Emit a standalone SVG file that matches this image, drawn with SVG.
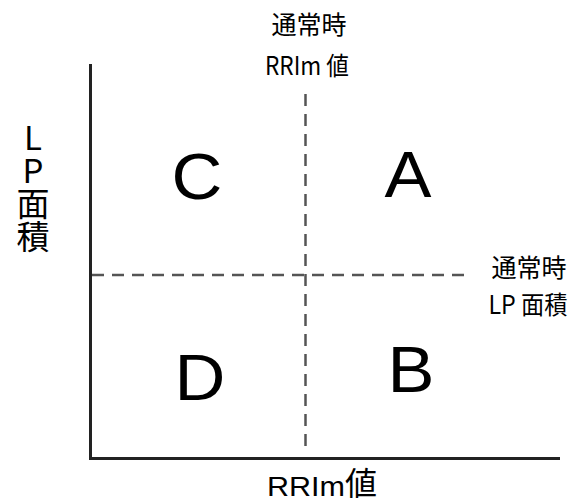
<svg xmlns="http://www.w3.org/2000/svg" width="578" height="503" viewBox="0 0 578 503">
<style>
.axis{stroke:#222;stroke-width:3;fill:none}
.dash{stroke:#555;stroke-width:2.5;stroke-dasharray:12 8;fill:none}
.jp{font-family:"Noto Sans CJK JP","Liberation Sans",sans-serif;fill:#000}
.big{font-family:"Liberation Sans",Arial,sans-serif;font-size:64px;fill:#000;text-anchor:middle}
</style>
<rect width="578" height="503" fill="#fff"/>
<g id="connectors">
<path class="axis" d="M90.5 64 V458.5 H560"/>
<path class="dash" d="M92 275 H466"/>
<path class="dash" d="M305.5 94 V446"/>
</g>
<g id="top-label" class="jp" text-anchor="middle">
<text x="309" y="34" font-size="25">通常時</text>
<text x="307" y="75" font-size="25" textLength="84" lengthAdjust="spacingAndGlyphs">RRIm 値</text>
</g>
<g id="right-label" class="jp" text-anchor="middle">
<text x="529" y="277" font-size="25">通常時</text>
<text x="528" y="314" font-size="25" textLength="79" lengthAdjust="spacingAndGlyphs">LP 面積</text>
</g>
<g id="y-label" class="jp">
<text x="33" y="121" font-size="33" style="writing-mode:vertical-rl;text-orientation:upright">LP面積</text>
</g>
<g id="x-label" class="jp">
<text x="267" y="496" font-size="28" font-family="Liberation Sans,sans-serif" textLength="78" lengthAdjust="spacingAndGlyphs">RRIm</text>
<text x="345" y="495" font-size="32">値</text>
</g>
<g id="C"><text class="big" x="197" y="199" transform="translate(197 0) scale(1.1 1) translate(-197 0)">C</text></g>
<g id="A"><text class="big" x="408" y="197" transform="translate(408 0) scale(1.1 1) translate(-408 0)">A</text></g>
<g id="D"><text class="big" x="200" y="400" transform="translate(200 0) scale(1.1 1) translate(-200 0)">D</text></g>
<g id="B"><text class="big" x="411" y="392" transform="translate(411 0) scale(1.1 1) translate(-411 0)">B</text></g>
</svg>
